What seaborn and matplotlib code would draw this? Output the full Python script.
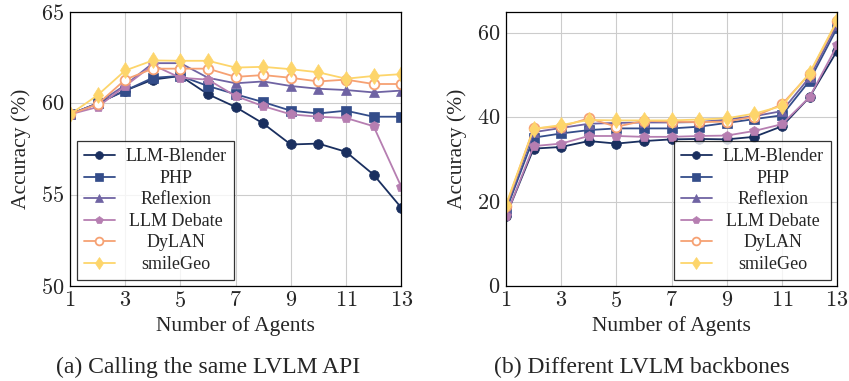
import matplotlib
matplotlib.use("Agg")
import matplotlib.pyplot as plt
import matplotlib.ticker as mticker
import numpy as np
import pandas as pd
import seaborn as sns

agents = list(range(1, 14))
methods = ['LLM-Blender', 'PHP', 'Reflexion', 'LLM Debate', 'DyLAN', 'smileGeo']

# (a) Calling the same LVLM API
api_blender = [59.4, 60.0, 60.7, 61.3, 61.5, 60.5, 59.8, 58.9, 57.75, 57.8, 57.35, 56.1, 54.3]
api_php = [59.4, 60.0, 60.7, 61.4, 61.5, 60.95, 60.5, 60.07, 59.6, 59.45, 59.6, 59.27, 59.27]
api_reflexion = [59.4, 60.0, 61.0, 62.2, 62.2, 61.4, 61.1, 61.2, 60.95, 60.8, 60.73, 60.6, 60.7]
api_debate = [59.4, 59.8, 60.95, 62.1, 61.4, 61.3, 60.4, 59.85, 59.4, 59.27, 59.2, 58.75, 55.45]
api_dylan = [59.4, 59.96, 61.3, 61.9, 61.9, 61.9, 61.45, 61.55, 61.4, 61.2, 61.3, 61.06, 61.06]
api_smilegeo = [59.4, 60.45, 61.8, 62.35, 62.33, 62.33, 61.96, 62.0, 61.87, 61.7, 61.35, 61.5, 61.6]

# (b) Different LVLM backbones
bb_blender = [16.6, 32.6, 33.0, 34.4, 33.8, 34.4, 34.8, 34.9, 34.8, 35.4, 37.9, 44.8, 55.8]
bb_php = [17.9, 35.2, 36.2, 37.0, 37.4, 37.4, 37.4, 37.8, 38.7, 39.6, 40.5, 48.7, 61.2]
bb_reflexion = [18.5, 36.5, 37.5, 38.5, 38.7, 38.8, 38.8, 38.9, 39.5, 40.3, 41.5, 49.5, 62.0]
bb_debate = [16.6, 33.2, 33.8, 35.6, 35.6, 35.4, 35.4, 35.6, 35.7, 36.8, 38.4, 44.8, 57.1]
bb_dylan = [19.0, 37.4, 37.8, 39.8, 37.8, 39.2, 39.0, 38.9, 39.0, 40.2, 43.1, 50.3, 62.8]
bb_smilegeo = [19.3, 37.3, 38.2, 39.4, 39.3, 39.3, 39.3, 39.5, 39.8, 40.9, 42.7, 50.5, 63.0]

api_data = [api_blender, api_php, api_reflexion, api_debate, api_dylan, api_smilegeo]
bb_data = [bb_blender, bb_php, bb_reflexion, bb_debate, bb_dylan, bb_smilegeo]

colors = ['#1a2f5f', '#344d8a', '#6f63a3', '#b67eb1', '#f6a173', '#fdd56b']
markers = ['o', 's', '^', 'p', 'o', 'd']
open_marker = [False, False, False, False, True, False]

sns.set_style('white')
plt.rcParams['font.family'] = ['Liberation Serif', 'DejaVu Serif']
plt.rcParams['mathtext.fontset'] = 'cm'

fig = plt.figure(figsize=(8.49, 3.81), dpi=100)
ax1 = fig.add_axes([0.0825, 0.249, 0.390, 0.7195])
ax2 = fig.add_axes([0.596, 0.249, 0.390, 0.7195])


def draw_panel(ax, data, ylim, yticks, anchor, loc):
    for name, vals, c, m, op in zip(methods, data, colors, markers, open_marker):
        df = pd.DataFrame({'agents': agents, 'acc': vals})
        sns.lineplot(data=df, x='agents', y='acc', ax=ax, color=c, marker=m,
                     markersize=7 if m != 'd' else 8, linewidth=1.3,
                     markerfacecolor='white' if op else c,
                     markeredgecolor=c, markeredgewidth=1.3 if op else 0.5,
                     label=name)
    ax.set_xlim(1, 13)
    ax.set_ylim(*ylim)
    ax.set_xticks([1, 3, 5, 7, 9, 11, 13])
    ax.set_yticks(yticks)
    fmt = mticker.FuncFormatter(lambda v, p: r'$%d$' % v)
    ax.xaxis.set_major_formatter(fmt)
    ax.yaxis.set_major_formatter(fmt)
    ax.tick_params(length=0, labelsize=16, pad=4)
    ax.grid(True, color='#cccccc', linewidth=0.8)
    for sp in ax.spines.values():
        sp.set_color('black')
        sp.set_linewidth(0.9)
        sp.set_visible(True)
    ax.set_xlabel('Number of Agents', fontsize=15.5, labelpad=3)
    ax.set_ylabel('Accuracy (%)', fontsize=15.5, labelpad=7)
    leg = ax.legend(loc=loc, bbox_to_anchor=anchor, borderaxespad=0,
                    fontsize=13, frameon=True, fancybox=False,
                    handlelength=1.7, handletextpad=0.6, labelspacing=0.25,
                    borderpad=0.4, markerscale=0.8)
    leg.get_frame().set_edgecolor('black')
    leg.get_frame().set_linewidth(0.9)
    return leg


leg1 = draw_panel(ax1, api_data, (50, 65), [50, 55, 60, 65], (0.02, 0.022), 'lower left')
leg2 = draw_panel(ax2, bb_data, (0, 65), [0, 20, 40, 60], (0.981, 0.022), 'lower right')

# centre legend labels like pgfplots
fig.canvas.draw()
renderer = fig.canvas.get_renderer()
for leg in (leg1, leg2):
    texts = leg.get_texts()
    widths = [t.get_window_extent(renderer).width for t in texts]
    wmax = max(widths)
    for t, w in zip(texts, widths):
        t.set_position(((wmax - w) / 2, 0))

fig.text(208 / 849, 1 - 367 / 381, '(a) Calling the same LVLM API',
         ha='center', va='center', fontsize=17)
fig.text(642 / 849, 1 - 367 / 381, '(b) Different LVLM backbones',
         ha='center', va='center', fontsize=17)

fig.savefig('out.png', dpi=100)
